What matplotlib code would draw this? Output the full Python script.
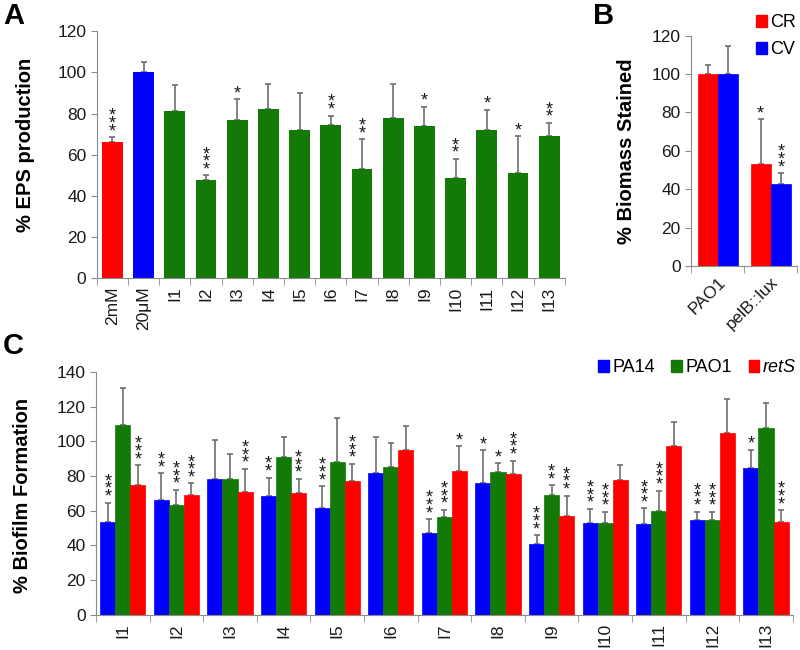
import matplotlib.pyplot as plt
import numpy as np

plt.rcParams['font.family'] = ['Liberation Sans', 'DejaVu Sans']

RED = '#ff0000'
BLUE = '#0000ff'
GREEN = '#137a08'
ERRC = '#6e6e6e'
AXC = '#8c8c8c'
TXT = '#1a1a1a'

# panel A
a_labels = ['2mM', '20μM', 'I1', 'I2', 'I3', 'I4', 'I5', 'I6', 'I7', 'I8',
            'I9', 'I10', 'I11', 'I12', 'I13']
a_vals = [66, 100, 81, 47.5, 77, 82, 72, 74.5, 53, 77.7, 73.8, 48.5, 71.8, 51, 69]
a_err = [2.5, 5, 13, 2.5, 10, 12.5, 18, 4.5, 14.5, 16.5, 9.5, 9.5, 10, 18, 6.5]
a_sig = ['***', '', '', '***', '*', '', '', '**', '**', '', '*', '**', '*', '*', '**']

# panel B
b_groups = ['PAO1', 'pelB::lux']
b_cr = [100, 53]
b_cr_err = [5, 23.5]
b_cv = [100, 42.7]
b_cv_err = [14.5, 5.7]
b_cr_sig = ['', '*']
b_cv_sig = ['', '***']

# panel C
c_labels = ['I1', 'I2', 'I3', 'I4', 'I5', 'I6', 'I7', 'I8', 'I9', 'I10', 'I11', 'I12', 'I13']
pa14 = [53.4, 66.1, 78.5, 68.5, 61.8, 81.6, 46.9, 75.7, 40.7, 53.2, 52.4, 54.7, 84.5]
pa14_err = [11.3, 15.5, 22.1, 10.6, 12.3, 20.6, 8.2, 19.2, 5.2, 7.9, 9.0, 4.8, 10.5]
pao1 = [109.3, 63.4, 78.5, 91.2, 88.3, 85.3, 56.6, 82.2, 69.3, 52.8, 59.9, 54.4, 107.7]
pao1_err = [21.1, 8.6, 13.9, 11.0, 25.0, 13.8, 3.9, 5.2, 5.4, 6.5, 11.7, 4.9, 14.6]
rets = [74.7, 69.3, 70.7, 70.3, 77.2, 94.9, 82.6, 81.4, 56.8, 77.6, 97.5, 104.5, 53.6]
rets_err = [11.5, 6.4, 13.4, 8.0, 9.8, 13.6, 14.6, 7.5, 11.9, 8.6, 13.7, 19.7, 6.7]
pa14_sig = ['***', '**', '', '**', '***', '', '***', '*', '***', '***', '***', '***', '*']
pao1_sig = ['', '***', '', '', '', '', '***', '*', '**', '***', '***', '***', '']
rets_sig = ['***', '***', '***', '***', '***', '', '*', '***', '***', '', '', '', '***']


def style_axis(ax, n, ymax, step):
    for s in ['top', 'right']:
        ax.spines[s].set_visible(False)
    for s in ['left', 'bottom']:
        ax.spines[s].set_color(AXC)
    ax.set_xlim(-0.5, n - 0.5)
    ax.set_ylim(0, ymax)
    ax.set_yticks(np.arange(0, ymax + 1, step))
    ax.tick_params(axis='y', colors=AXC, labelcolor=TXT, labelsize=12.5, length=4)
    ax.set_xticks(np.arange(n))
    ax.set_xticks(np.arange(n + 1) - 0.5, minor=True)
    ax.tick_params(axis='x', which='major', length=0, labelsize=12.5, labelcolor=TXT, pad=6)
    ax.tick_params(axis='x', which='minor', length=5, color=AXC)


def stars(ax, x, tops, sig):
    # one stacked text of asterisks above each error bar
    for xi, t, s in zip(x, tops, sig):
        if s:
            ax.annotate('\n'.join(s), xy=(xi, t), xytext=(0, -3), textcoords='offset pixels',
                        ha='center', va='bottom', multialignment='center', linespacing=0.28,
                        fontsize=13, color=TXT, annotation_clip=False)


def bars(ax, x, vals, err, color, width, sig):
    ax.bar(x, vals, width, color=color, edgecolor=color, linewidth=0.5, zorder=2)
    ax.errorbar(x, vals, yerr=[np.zeros(len(vals)), err], fmt='none', ecolor=ERRC,
                elinewidth=1.2, capsize=2.5, capthick=1.2, zorder=1)
    stars(ax, x, np.array(vals) + np.array(err), sig)


fig = plt.figure(figsize=(8, 6.5), dpi=100)

# A
axA = fig.add_axes([0.121, 0.572, 0.585, 0.380])
xa = np.arange(len(a_labels))
a_colors = [RED, BLUE] + [GREEN] * 13
axA.bar(xa, a_vals, 0.67, color=a_colors, zorder=2)
axA.errorbar(xa, a_vals, yerr=[np.zeros(len(a_vals)), a_err], fmt='none', ecolor=ERRC,
             elinewidth=1.2, capsize=2.5, capthick=1.2, zorder=1)
stars(axA, xa, np.array(a_vals) + np.array(a_err), a_sig)
style_axis(axA, len(a_labels), 120, 20)
axA.set_xticklabels(a_labels, rotation=90)
axA.set_ylabel('% EPS production', fontsize=14.5, fontweight='bold')
axA.yaxis.set_label_coords(-0.132, 0.54)
fig.text(0.004, 0.997, 'A', fontsize=21, fontweight='bold', va='top')

# B
axB = fig.add_axes([0.864, 0.591, 0.1325, 0.354])
xb = np.arange(len(b_groups))
wb = 0.38
bars(axB, xb - wb / 2, b_cr, b_cr_err, RED, wb, b_cr_sig)
bars(axB, xb + wb / 2, b_cv, b_cv_err, BLUE, wb, b_cv_sig)
style_axis(axB, len(b_groups), 120, 20)
axB.set_xticklabels(b_groups, rotation=45, ha='right', rotation_mode='anchor')
axB.set_ylabel('% Biomass Stained', fontsize=14.5, fontweight='bold')
axB.yaxis.set_label_coords(-0.52, 0.5)
fig.legend(handles=[plt.Rectangle((0, 0), 1, 1, color=RED), plt.Rectangle((0, 0), 1, 1, color=BLUE)],
           labels=['CR', 'CV'], loc='upper right', bbox_to_anchor=(0.995, 0.978), frameon=False,
           fontsize=13, handlelength=0.6, handleheight=0.6, handletextpad=0.2, labelspacing=0.55,
           borderaxespad=0, borderpad=0)
fig.text(0.741, 0.997, 'B', fontsize=21, fontweight='bold', va='top')

# C
axC = fig.add_axes([0.12, 0.054, 0.871, 0.374])
xc = np.arange(len(c_labels))
wc = 0.28
bars(axC, xc - wc, pa14, pa14_err, BLUE, wc, pa14_sig)
bars(axC, xc, pao1, pao1_err, GREEN, wc, pao1_sig)
bars(axC, xc + wc, rets, rets_err, RED, wc, rets_sig)
style_axis(axC, len(c_labels), 140, 20)
axC.set_xticklabels(c_labels, rotation=90)
axC.set_ylabel('% Biofilm Formation', fontsize=14.5, fontweight='bold')
axC.yaxis.set_label_coords(-0.092, 0.49)
leg = fig.legend(handles=[plt.Rectangle((0, 0), 1, 1, color=c) for c in [BLUE, GREEN, RED]],
                 labels=['PA14', 'PAO1', 'retS'], loc='upper right', bbox_to_anchor=(0.995, 0.447),
                 ncol=3, frameon=False, fontsize=13, handlelength=0.6, handleheight=0.6,
                 handletextpad=0.2, columnspacing=0.9, borderaxespad=0, borderpad=0)
leg.get_texts()[2].set_fontstyle('italic')
fig.text(0.004, 0.49, 'C', fontsize=21, fontweight='bold', va='top')

fig.savefig('out.png', dpi=100)
